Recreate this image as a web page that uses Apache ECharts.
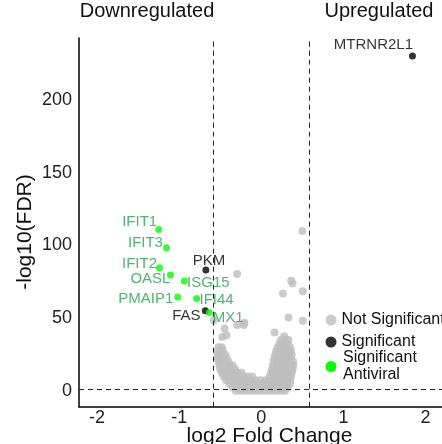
<!DOCTYPE html>
<html><head><meta charset="utf-8">
<script src="https://cdn.jsdelivr.net/npm/echarts@6/dist/echarts.min.js"></script>
<style>html,body{margin:0;padding:0;background:#fff}#c{width:442px;height:444px}</style>
</head><body><div id="c"></div>
<script>
// ---- data ----
const xTicks = [-2, -1, 0, 1, 2];
const yTicks = [0, 50, 100, 150, 200];
const fcCut = 0.585;
const fdrCut = 1.3;

// not significant genes
const grayOutliers = [
  [-0.295,80.4],[0.364,75.8],[0.38,74],[0.263,67],[0.505,68.7],[0.331,50.6],[0.505,48.3],
  [0.161,40.3],[-0.206,47],[-0.476,37.3],[-0.295,45.4],[-0.215,45.4],[-0.448,43],[-0.424,38.5],
  [-0.578,48.8],[0.5,110]
];
const grayCloud = [
  [-0.31,0.4],[-0.26,0.4],[-0.21,0.4],[-0.16,0.4],[-0.11,0.4],[-0.06,0.4],[-0.01,0.4],[0.04,0.4],[0.09,0.4],[0.14,0.4],[0.19,0.4],[0.24,0.4],[0.29,0.4],
  [-0.35,2.6],[-0.29,2.6],[-0.24,2.6],[-0.18,2.6],[-0.13,2.6],[-0.08,2.6],[-0.03,2.6],[0.02,2.6],[0.07,2.6],[0.12,2.6],[0.17,2.6],[0.22,2.6],[0.27,2.6],[0.32,2.6],
  [-0.39,5.1],[-0.33,5.1],[-0.27,5.1],[-0.21,5.1],[-0.15,5.1],[-0.1,5.1],[-0.04,5.1],[0.01,5.1],[0.06,5.1],[0.11,5.1],[0.16,5.1],[0.21,5.1],[0.26,5.1],[0.31,5.1],[0.35,5.1],
  [-0.43,7.6],[-0.37,7.6],[-0.31,7.6],[-0.25,7.6],[-0.19,7.6],[-0.13,7.6],[-0.07,7.6],[-0.01,7.6],[0.05,7.6],[0.1,7.6],[0.15,7.6],[0.2,7.6],[0.25,7.6],[0.3,7.6],[0.35,7.6],
  [-0.46,10.2],[-0.4,10.2],[-0.34,10.2],[-0.28,10.2],[-0.22,10.2],[-0.16,10.2],[-0.11,10.2],[0.1,10.2],[0.15,10.2],[0.2,10.2],[0.25,10.2],[0.3,10.2],[0.36,10.2],
  [-0.48,12.7],[-0.42,12.7],[-0.36,12.7],[-0.3,12.7],[-0.24,12.7],[0.12,12.7],[0.17,12.7],[0.22,12.7],[0.27,12.7],[0.32,12.7],[0.37,12.7],
  [-0.5,15.1],[-0.44,15.1],[-0.38,15.1],[-0.32,15.1],[0.13,15.1],[0.18,15.1],[0.23,15.1],[0.28,15.1],[0.33,15.1],[0.38,15.1],
  [-0.51,17.6],[-0.45,17.6],[-0.39,17.6],[-0.35,17.6],[0.14,17.6],[0.19,17.6],[0.24,17.6],[0.29,17.6],[0.34,17.6],[0.39,17.6],
  [-0.52,20.2],[-0.46,20.2],[-0.4,20.2],[0.15,20.2],[0.2,20.2],[0.25,20.2],[0.3,20.2],[0.35,20.2],[0.39,20.2],
  [-0.53,22.6],[-0.47,22.6],[-0.42,22.6],[0.16,22.6],[0.21,22.6],[0.26,22.6],[0.31,22.6],[0.36,22.6],
  [-0.53,25.1],[-0.48,25.1],[-0.44,25.1],[0.17,25.1],[0.22,25.1],[0.27,25.1],[0.32,25.1],[0.37,25.1],
  [-0.53,27.7],[-0.47,27.7],[0.18,27.7],[0.23,27.7],[0.28,27.7],[0.33,27.7],[0.36,27.7],
  [-0.52,30.2],[-0.48,30.2],[0.2,30.2],[0.25,30.2],[0.3,30.2],[0.35,30.2],
  [0.22,32.6],[0.27,32.6],[0.32,32.6],
  [0.24,35.1],[0.29,35.1],[0.33,35.1],
  [0.28,37.8]
];

const sigNames = ['MTRNR2L1', 'PKM', 'FAS'];
const sigX = [1.84, -0.675, -0.682];
const sigY = [230, 83.2, 55.2];

const avNames = ['IFIT1', 'IFIT3', 'IFIT2', 'OASL', 'ISG15', 'PMAIP1', 'IFI44', 'MX1'];
const avX = [-1.25, -1.155, -1.24, -1.107, -0.937, -1.018, -0.788, -0.634];
const avY = [111, 98.5, 84.7, 79.7, 75.6, 64.6, 63.7, 54];

// ---- layout (label offsets in px) ----
const labelOffsets = {
  MTRNR2L1: [-39, -11], PKM: [3, -9], FAS: [-19, 5],
  IFIT1: [-19, -8], IFIT3: [-21, -5], IFIT2: [-20, -4], OASL: [-20, 4],
  ISG15: [24, 2], PMAIP1: [-32, 2], IFI44: [20, 1], MX1: [19, 5]
};

const FONT = 'Liberation Sans, Arial, sans-serif';
const CSSFONT = '"Liberation Sans", Arial, sans-serif';
const labelGreen = '#22a050';
const antiviralGreen = '#00ff00';

function labeled(names, xs, ys, color) {
  return names.map((n, i) => ({
    name: n,
    value: [xs[i], ys[i]],
    label: {
      show: true, position: 'inside', formatter: n, offset: labelOffsets[n],
      color: color, fontSize: 15, fontFamily: FONT
    }
  }));
}

const chart = echarts.init(document.getElementById('c'), null, {renderer: 'canvas'});
chart.setOption({
  animation: false,
  backgroundColor: '#fff',
  textStyle: {fontFamily: FONT},
  title: [
    {text: 'Downregulated', left: 147, top: 1, textAlign: 'center', padding: 0,
     textStyle: {fontSize: 20, fontWeight: 'normal', color: '#111', fontFamily: FONT}},
    {text: 'Upregulated', left: 379, top: 1, textAlign: 'center', padding: 0,
     textStyle: {fontSize: 20, fontWeight: 'normal', color: '#111', fontFamily: FONT}}
  ],
  graphic: [
    {type: 'text', x: 25, y: 232, rotation: Math.PI / 2, silent: true,
     style: {text: '-log10(FDR)', fill: '#111', font: '21px ' + CSSFONT,
             textAlign: 'center', textVerticalAlign: 'middle', verticalAlign: 'middle', align: 'center'}},
    // legend entry for the two-line "Significant Antiviral" key
    {type: 'circle', shape: {cx: 331, cy: 366.5, r: 5.5}, style: {fill: antiviralGreen}, silent: true},
    {type: 'text', x: 343, y: 358, silent: true,
     style: {text: 'Significant', fill: '#111', font: '16px ' + CSSFONT,
             align: 'left', verticalAlign: 'middle', textAlign: 'left', textVerticalAlign: 'middle'}},
    {type: 'text', x: 343, y: 375, silent: true,
     style: {text: 'Antiviral', fill: '#111', font: '16px ' + CSSFONT,
             align: 'left', verticalAlign: 'middle', textAlign: 'left', textVerticalAlign: 'middle'}}
  ],
  grid: {left: 79, right: 0, top: 38, bottom: 37.3, containLabel: false, outerBoundsMode: 'none'},
  xAxis: {
    type: 'value', min: -2.22, max: 2.2,
    name: 'log2 Fold Change', nameLocation: 'middle', nameGap: 19, nameMoveOverlap: false,
    nameTextStyle: {fontSize: 21, color: '#111', fontFamily: FONT, padding: [0, 0, 0, 18]},
    axisLine: {show: true, onZero: false, lineStyle: {color: '#000', width: 1.5}},
    axisTick: {show: false},
    splitLine: {show: false},
    axisLabel: {customValues: xTicks, fontSize: 18, color: '#222', margin: 2, fontFamily: FONT,
      formatter: v => String(v)}
  },
  yAxis: {
    type: 'value', min: -10.6, max: 242.4,
    axisLine: {show: true, onZero: false, lineStyle: {color: '#000', width: 1.5}},
    axisTick: {show: false},
    splitLine: {show: false},
    axisLabel: {customValues: yTicks, fontSize: 18, color: '#222', margin: 7, fontFamily: FONT}
  },
  legend: [
    {data: ['Not Significant', 'Significant'], orient: 'vertical', left: 325.5, top: 312, padding: 0,
     icon: 'circle', itemWidth: 11, itemHeight: 11, itemGap: 6, itemTextGap: 6,
     textStyle: {fontSize: 16, color: '#111', lineHeight: 16, fontFamily: FONT}}
  ],
  series: [
    {
      name: 'Not Significant', type: 'scatter', symbolSize: 8,
      itemStyle: {color: '#bebebe'},
      data: grayCloud.concat(grayOutliers),
      markLine: {
        silent: true, symbol: 'none', label: {show: false},
        lineStyle: {color: '#222', type: [5, 4], width: 1},
        data: [{xAxis: -fcCut}, {xAxis: fcCut}, {yAxis: fdrCut}]
      }
    },
    {
      name: 'Significant', type: 'scatter', symbolSize: 7,
      itemStyle: {color: '#000'},
      data: labeled(sigNames, sigX, sigY, '#000')
    },
    {
      name: 'Significant Antiviral', type: 'scatter', symbolSize: 7,
      itemStyle: {color: antiviralGreen},
      data: labeled(avNames, avX, avY, labelGreen)
    }
  ]
});
</script></body></html>
